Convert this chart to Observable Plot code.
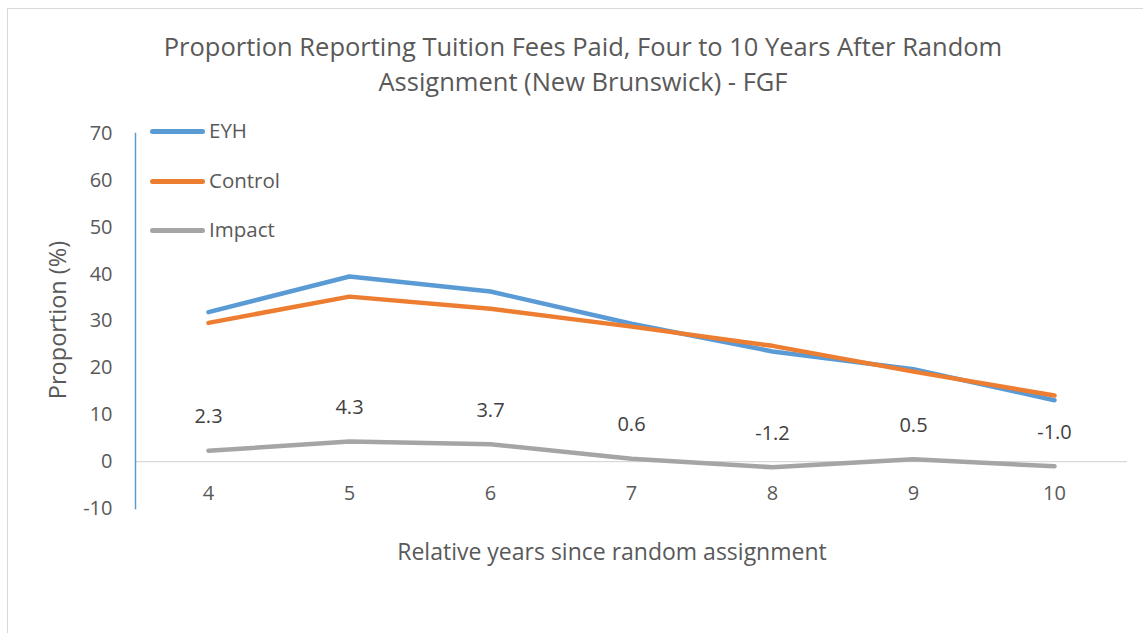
<!DOCTYPE html>
<html>
<head>
<meta charset="utf-8">
<script src="https://cdn.jsdelivr.net/npm/d3@7"></script>
<script src="https://cdn.jsdelivr.net/npm/@observablehq/plot@0.6"></script>
<style>
  html, body { margin: 0; padding: 0; background: #fff; overflow: hidden; }
  body { width: 1143px; height: 633px; position: relative; font-family: "Open Sans", sans-serif; color: #595959; }
  #border { position: absolute; left: 7px; top: 8px; width: 1200px; height: 700px; border: 1.5px solid #d9d9d9; box-sizing: border-box; }
  #chart { position: absolute; left: 0; top: 0; }
  .title { position: absolute; left: 0; width: 1166px; text-align: center; font-size: 25.5px; line-height: 35px; top: 29px; color: #595959; white-space: nowrap; }
  .ylabel { position: absolute; left: 57px; top: 320px; transform: translate(-50%, -50%) rotate(-90deg); font-size: 23.5px; white-space: nowrap; }
  .xlabel { position: absolute; left: 612px; top: 551px; transform: translate(-50%, -50%); font-size: 23px; white-space: nowrap; }
  .legend { position: absolute; left: 150px; top: 116px; font-size: 20.5px; }
  .legend div { height: 49.5px; display: flex; align-items: flex-start; }
  .legend span.sw { display: inline-block; width: 55px; height: 5px; border-radius: 3px; margin-top: 13px; margin-right: 4px; }
</style>
</head>
<body>
<div id="border"></div>
<div id="chart"></div>
<div class="title">Proportion Reporting Tuition Fees Paid, Four to 10 Years After Random<br>Assignment (New Brunswick) - FGF</div>
<div class="ylabel">Proportion (%)</div>
<div class="xlabel">Relative years since random assignment</div>
<div class="legend" id="legend"></div>
<script>
const years = [4, 5, 6, 7, 8, 9, 10];
const eyh = [31.9, 39.5, 36.3, 29.4, 23.5, 19.7, 13.1];
const control = [29.6, 35.2, 32.6, 28.8, 24.7, 19.2, 14.1];
const impact = [2.3, 4.3, 3.7, 0.6, -1.2, 0.5, -1.0];
const seriesNames = ["EYH", "Control", "Impact"];
const seriesColors = ["#5b9bd5", "#ed7d31", "#a5a5a5"];
const yTicks = [-10, 0, 10, 20, 30, 40, 50, 60, 70];

const rows = [];
[eyh, control, impact].forEach((vals, si) => {
  vals.forEach((v, i) => rows.push({ year: years[i], value: v, series: seriesNames[si] }));
});
const impactRows = rows.filter(d => d.series === "Impact");

const chart = Plot.plot({
  width: 1143,
  height: 633,
  marginLeft: 135,
  marginRight: 16,
  marginTop: 133,
  marginBottom: 125,
  style: { fontFamily: "Open Sans, sans-serif", background: "transparent", overflow: "visible" },
  x: { type: "point", domain: years, padding: 0.5, axis: null },
  y: { domain: [-10, 70], ticks: yTicks, axis: null },
  color: { domain: seriesNames, range: seriesColors },
  marks: [
    Plot.ruleY([0], { stroke: "#d9d9d9", strokeWidth: 1.3 }),
    Plot.axisY({ ticks: yTicks, tickSize: 0, tickPadding: 23, fontSize: 20, fill: "#595959", label: null, tickFormat: d => String(d) }),
    Plot.frame({ anchor: "left", stroke: "#5b9bd5", strokeWidth: 1.5 }),
    Plot.text(years, { x: d => d, y: () => 0, dy: 32, text: d => String(d), fontSize: 20, fill: "#595959" }),
    Plot.line(rows, { x: "year", y: "value", z: "series", stroke: "series", strokeWidth: 4.5, strokeLinecap: "round", strokeLinejoin: "round" }),
    Plot.text(impactRows, { x: "year", y: "value", text: d => d.value.toFixed(1), dy: -34, fontSize: 20, fill: "#404040" })
  ]
});
document.getElementById("chart").appendChild(chart);

const legend = document.getElementById("legend");
seriesNames.forEach((n, i) => {
  const row = document.createElement("div");
  row.innerHTML = `<span class="sw" style="background:${seriesColors[i]}"></span><span>${n}</span>`;
  legend.appendChild(row);
});
</script>
</body>
</html>
